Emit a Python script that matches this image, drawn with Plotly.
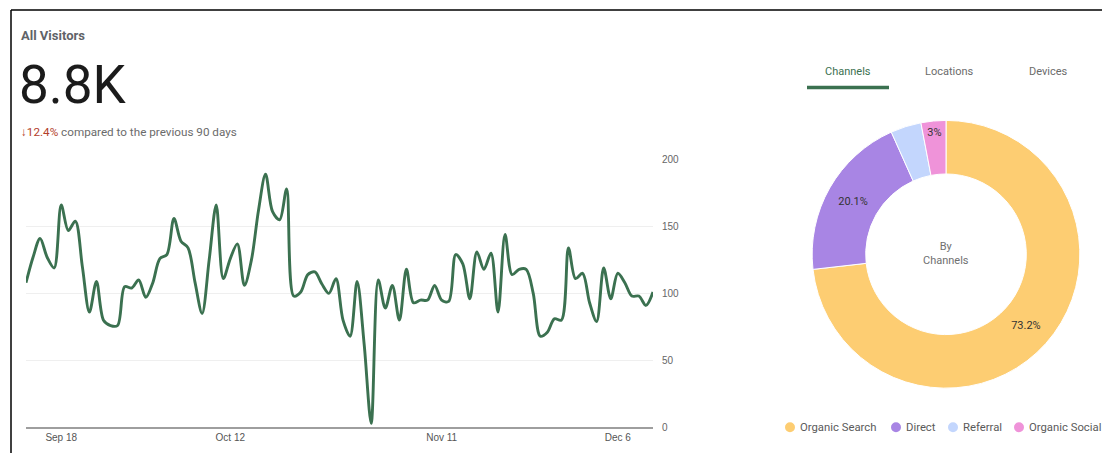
import plotly.graph_objects as go
import pandas as pd

W, H = 1102, 453

# ---------------- data ----------------
start_date = "2023-09-13"
visitors = [108, 127, 141, 127, 119, 166, 147, 154, 120, 86,
            109, 80, 76, 76, 105, 104, 110, 97, 108, 126,
            129, 156, 139, 134, 108, 85, 125, 166, 111, 126,
            137, 106, 125, 162, 189, 161, 155, 178, 98, 101,
            114, 116, 107, 100, 111, 80, 68, 109, 62, 3,
            110, 89, 106, 80, 118, 93, 95, 95, 106, 95,
            94, 129, 122, 96, 131, 118, 130, 86, 144, 114,
            118, 118, 100, 68, 71, 81, 80, 134, 111, 115,
            93, 79, 119, 96, 115, 108, 98, 98, 91, 101]
dates = pd.date_range(start_date, periods=len(visitors), freq="D")

x_tick_vals = ["2023-09-18", "2023-10-12", "2023-11-11", "2023-12-06"]
x_tick_text = ["Sep 18", "Oct 12", "Nov 11", "Dec 6"]
y_tick_vals = [0, 50, 100, 150, 200]

channels = ["Organic Search", "Direct", "Referral", "Organic Social"]
channel_share = [73.2, 20.1, 3.7, 3.0]
channel_text = ["73.2%", "20.1%", "", "3%"]
channel_colors = ["#fdcd72", "#a885e4", "#c3d6fd", "#ef93d9"]

tabs = ["Channels", "Locations", "Devices"]

total_label = "8.8K"
change_label = "↓12.4%"

# ---------------- helpers ----------------
# observed drawing area: full width, vertical band of ~440.8 px starting ~5.9 px down
Y0, HE = 5.9, 440.8

def px(x):
    return x / W

def py(y):
    return 1 - (y - Y0) / HE

GREEN = "#3b7150"
FONT = "Roboto"

fig = go.Figure()

fig.add_trace(go.Scatter(
    x=dates, y=visitors, mode="lines",
    line=dict(color=GREEN, width=2.9, shape="spline", smoothing=0.9),
    showlegend=False, hoverinfo="skip", xaxis="x", yaxis="y"))

fig.add_trace(go.Pie(
    labels=channels, values=channel_share, text=channel_text,
    textinfo="text", textposition="inside", insidetextorientation="horizontal",
    sort=False, direction="clockwise", rotation=0, hole=0.6,
    marker=dict(colors=channel_colors, line=dict(color="white", width=1)),
    textfont=dict(family=FONT, size=11, color="#333333"),
    domain=dict(x=[px(946 - 140), px(946 + 140)], y=[py(254.5 + 133.5), py(254.5 - 133.5)]),
    showlegend=False, hoverinfo="skip"))

annotations = [
    dict(text="<b>All Visitors</b>", x=px(19), y=py(36), xanchor="left", yanchor="middle",
         font=dict(family=FONT, size=13, color="#5f6368")),
    dict(text=total_label, x=px(17), y=py(86), xanchor="left", yanchor="middle",
         font=dict(family=FONT, size=53, color="#1b1b1b")),
    dict(text=f"<span style='color:#b3402a'>{change_label}</span> compared to the previous 90 days",
         x=px(19), y=py(133), xanchor="left", yanchor="middle",
         font=dict(family=FONT, size=11.7, color="#6b6b6b")),
    dict(text="By<br>Channels", x=px(946), y=py(254), xanchor="center", yanchor="middle",
         font=dict(family=FONT, size=11, color="#707070")),
]

tab_x = [848, 950, 1048]
for i, t in enumerate(tabs):
    annotations.append(dict(
        text=t, x=px(tab_x[i]), y=py(72), xanchor="center", yanchor="middle",
        font=dict(family=FONT, size=11, color=GREEN if i == 0 else "#6b6b6b")))

legend_dot_x = [790, 896, 953, 1019]
for i, c in enumerate(channels):
    annotations.append(dict(
        text=c, x=px(legend_dot_x[i] + 8), y=py(427), xanchor="left", yanchor="middle",
        font=dict(family=FONT, size=11.3, color="#5a5a5a")))

for a in annotations:
    a.update(xref="paper", yref="paper", showarrow=False)

shapes = [
    dict(type="line", x0=px(11), x1=1, y0=py(11), y1=py(11), line=dict(color="black", width=1.5)),
    dict(type="line", x0=px(11), x1=px(11), y0=py(11), y1=py(460), line=dict(color="black", width=1.5)),
    dict(type="rect", x0=px(807), x1=px(889), y0=py(90), y1=py(86.5),
         fillcolor=GREEN, line=dict(width=0)),
]
for i, c in enumerate(channel_colors):
    cx, cy, r = legend_dot_x[i], 427, 5
    shapes.append(dict(type="circle", x0=px(cx - r), x1=px(cx + r), y0=py(cy + r), y1=py(cy - r),
                       fillcolor=c, line=dict(width=0)))
for s in shapes:
    s.update(xref="paper", yref="paper")

fig.update_layout(
    width=W, height=H,
    margin=dict(l=0, r=0, t=0, b=0),
    paper_bgcolor="white", plot_bgcolor="white",
    hovermode=False,
    xaxis=dict(domain=[px(26), px(653)], range=[dates[0], dates[-1]],
               tickvals=x_tick_vals, ticktext=x_tick_text,
               showgrid=False, zeroline=False,
               showline=True, linecolor="#9e9e9e", linewidth=1.5,
               tickfont=dict(family="Liberation Sans, Arial", size=10, color="#555555"),
               ticks="", fixedrange=True),
    yaxis=dict(domain=[py(427), py(160)], range=[0, 200], side="right",
               tickvals=y_tick_vals, showgrid=True, gridcolor="#efefef", gridwidth=1,
               zeroline=False, showline=False, ticks="", ticklabelstandoff=8,
               tickfont=dict(family="Liberation Sans, Arial", size=10, color="#666666"),
               fixedrange=True),
    annotations=annotations,
    shapes=shapes,
)

fig.write_html("out.html", config={"displayModeBar": False},
               post_script="document.body.style.margin='0';document.body.style.overflow='hidden';")
